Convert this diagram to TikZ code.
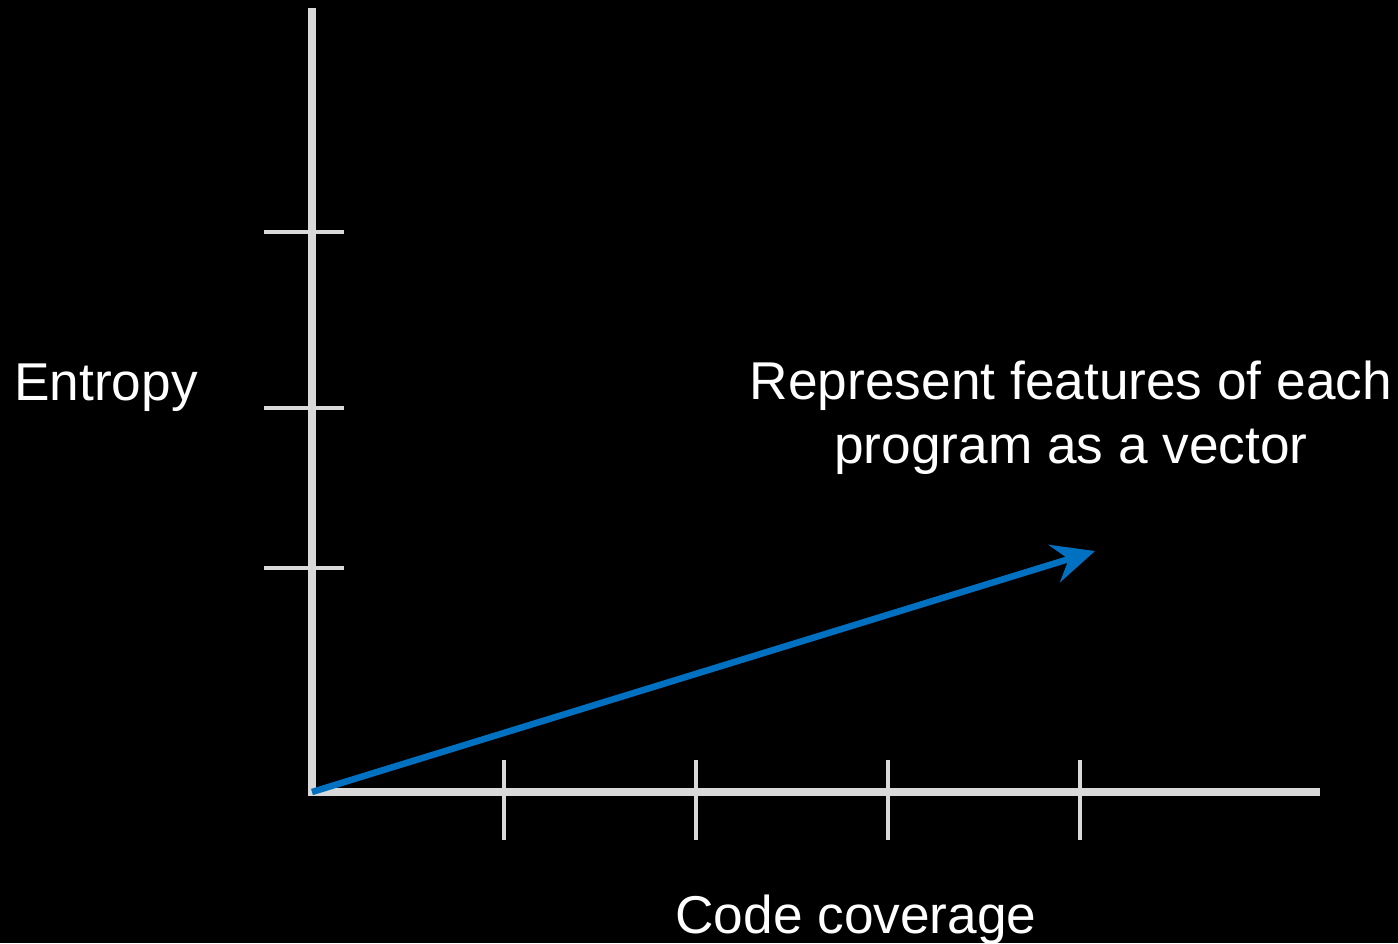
\documentclass[tikz,border=0pt]{standalone}
\usepackage{fontspec}
\setmainfont{Liberation Sans}
\usetikzlibrary{arrows.meta}
\definecolor{axisgray}{HTML}{D9D9D9}
\definecolor{vecblue}{HTML}{0070C0}
\tikzset{
    axisline/.style={draw=axisgray, line width=0.16cm},
    tickline/.style={draw=axisgray, line width=0.08cm},
    vecline/.style={draw=vecblue, line width=0.13cm, -{Stealth[length=0.85cm, width=0.78cm, inset=0.3cm]}},
    label/.style={text=white, inner sep=0pt, font=\fontsize{30.3pt}{36pt}\selectfont}
}
\begin{document}
\begin{tikzpicture}[x=0.02cm, y=-0.02cm]
% parameters (pixels)
\def\tickin{32}
\def\tickout{48}
% background
\fill[black] (0,0) rectangle (1398,943);
\useasboundingbox (0,0) rectangle (1398,943);
% Draw the axes
    \coordinate (origin) at (312,792);
    \coordinate (ytop) at (312,8);
    \coordinate (xend) at (1320,792);
    \draw[axisline] (ytop) -- (origin) -- (xend);
% Draw the ticks on the entropy axis
    \foreach \j in {232,408,568} {
        \draw[tickline] (312-\tickout,\j) -- (312+\tickin,\j);
    }
% Draw the ticks on the coverage axis
    \foreach \i in {504,696,888,1080} {
        \draw[tickline] (\i,792-\tickin) -- (\i,792+\tickout);
    }
% Draw the vector
    \coordinate (vtip) at (1095,551);
    \draw[vecline] (origin) -- (vtip);
% Labels
    \node[label, anchor=base west] (entropy) at (14,400) {Entropy};
    \node[label, anchor=base, align=center] (feat) at (1071,463) {Represent features of each\\program as a vector};
    \node[label, anchor=base] (coverage) at (856,933) {Code coverage};
\end{tikzpicture}
\end{document}
